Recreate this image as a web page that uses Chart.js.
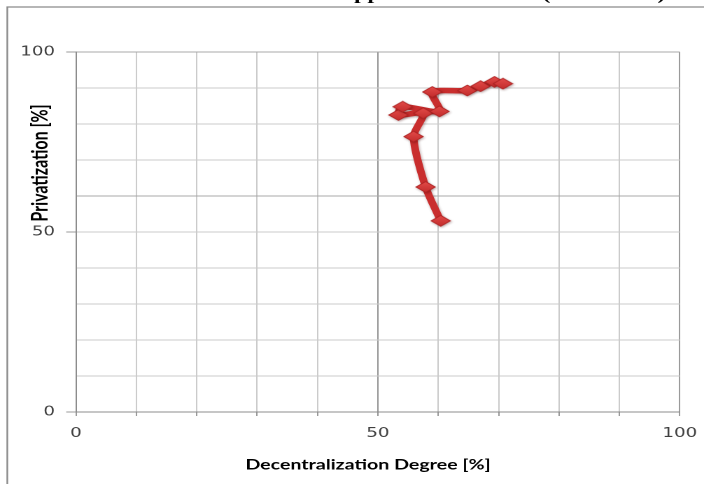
<!DOCTYPE html>
<html>
<head>
<meta charset="utf-8">
<script src="https://cdn.jsdelivr.net/npm/chart.js@4.4.1/dist/chart.umd.min.js"></script>
<style>
  html, body { margin: 0; padding: 0; background: #ffffff; overflow: hidden; }
  /* the figure is laid out narrow and widened to the page */
  #wrap { position: absolute; left: 0; top: 0; width: 503px; height: 484px;
          transform: scaleX(1.3996); transform-origin: 0 0; }
</style>
</head>
<body>
<div id="wrap"><canvas id="c"></canvas></div>
<script>
// Slovakia path: decentralization degree vs. privatization share
const decentralization = [60.4, 57.9, 55.9, 57.5, 53.4, 54.1, 60.2, 59.0, 64.8, 67.0, 69.3, 70.7];
const privatization    = [53.1, 62.5, 76.5, 83.0, 82.5, 84.8, 83.5, 88.9, 89.3, 90.5, 91.7, 91.2];
const tickLabels = [0, 50, 100];
const xAxisTitle = 'Decentralization Degree [%]';
const yAxisTitle = 'Privatization [%]';
const chartTitle = 'COMPARATIVE Transition Model applied to Slovakia (1993\u20132008)';

const points = decentralization.map((x, i) => ({ x: x, y: privatization[i] }));

// flattened diamond marker, rendered at double resolution
function makeMarker(w, h) {
  const k = 2;
  const c = document.createElement('canvas');
  c.width = w * k; c.height = h * k;
  const g = c.getContext('2d');
  g.scale(k, k);
  const grad = g.createLinearGradient(0, 0, 0, h);
  grad.addColorStop(0, '#e44c4a');
  grad.addColorStop(1, '#c02b2b');
  g.beginPath();
  g.moveTo(w / 2, 0.6); g.lineTo(w - 0.6, h / 2); g.lineTo(w / 2, h - 0.6); g.lineTo(0.6, h / 2);
  g.closePath();
  g.fillStyle = grad; g.fill();
  g.lineWidth = 0.8; g.strokeStyle = '#b02424'; g.stroke();
  const img = new Image();
  img.width = w; img.height = h;
  img.src = c.toDataURL();
  return img;
}

const frameAndText = {
  id: 'frameAndText',
  beforeDraw(chart) {
    const ctx = chart.ctx;
    ctx.save();
    // outer frame (top and left edges)
    ctx.strokeStyle = '#8a8a8a';
    ctx.lineWidth = 1.2;
    ctx.beginPath();
    ctx.moveTo(5.2, 490); ctx.lineTo(5.2, 7); ctx.lineTo(520, 7);
    ctx.stroke();
    // heading, running off the top edge
    ctx.font = 'bold 17px "Liberation Serif", serif';
    ctx.fillStyle = '#000000';
    ctx.textBaseline = 'alphabetic';
    const prefix = chartTitle.slice(0, chartTitle.indexOf('Model'));
    const x0 = 194 - ctx.measureText(prefix).width;
    ctx.fillText(chartTitle, x0, -0.6);
    ctx.restore();
  },
  afterDraw(chart) {
    const ctx = chart.ctx;
    ctx.save();
    ctx.fillStyle = '#000000';
    ctx.textAlign = 'center';
    ctx.textBaseline = 'middle';
    ctx.font = 'bold 14px Lato, sans-serif';
    ctx.fillText(xAxisTitle, 263, 465);
    ctx.translate(28.6, 163);
    ctx.rotate(-Math.PI / 2);
    ctx.font = 'bold 16px Lato, sans-serif';
    ctx.fillText(yAxisTitle, 0, 0);
    ctx.restore();
  }
};

const seriesShadow = {
  id: 'seriesShadow',
  beforeDatasetsDraw(chart) {
    const ctx = chart.ctx;
    ctx.save();
    ctx.shadowColor = 'rgba(60,0,0,0.35)';
    ctx.shadowBlur = 4;
    ctx.shadowOffsetX = 1.2;
    ctx.shadowOffsetY = 2;
  },
  afterDatasetsDraw(chart) { chart.ctx.restore(); }
};

const strongX = v => v === 0 || v === 50 || v === 100;
const strongY = v => v === 0 || v === 60 || v === 100;

const marker = makeMarker(15, 12);
marker.onload = () => {
  new Chart(document.getElementById('c'), {
    type: 'scatter',
    data: {
      datasets: [{
        data: points,
        showLine: true,
        borderColor: '#c92e2e',
        backgroundColor: '#c92e2e',
        borderWidth: 5.5,
        borderJoinStyle: 'round',
        borderCapStyle: 'round',
        tension: 0.25,
        pointStyle: marker,
        pointRadius: 6
      }]
    },
    options: {
      responsive: true,
      maintainAspectRatio: false,
      animation: false,
      devicePixelRatio: 2,
      layout: { padding: { left: 0, right: 17.3, top: 52, bottom: 0 } },
      plugins: { legend: { display: false }, tooltip: { enabled: false } },
      scales: {
        x: {
          type: 'linear', min: 0, max: 100,
          afterFit(scale) { scale.height = 72; scale.paddingLeft = 0; scale.paddingRight = 0; },
          border: { display: true, color: '#8c8c8c', width: 1 },
          grid: {
            color: c => (c.tick && strongX(c.tick.value)) ? '#9a9a9a' : '#cbcbcb',
            tickColor: '#9a9a9a',
            tickLength: 4
          },
          ticks: {
            stepSize: 10, autoSkip: false, maxRotation: 0, padding: 10,
            color: '#404040',
            font: { family: '"DejaVu Sans", sans-serif', size: 13 },
            callback: v => tickLabels.includes(v) ? String(v) : ''
          }
        },
        y: {
          type: 'linear', min: 0, max: 100,
          afterFit(scale) { scale.width = 54.3; },
          border: { display: true, color: '#8c8c8c', width: 1 },
          grid: {
            color: c => (c.tick && strongY(c.tick.value)) ? '#a8a8a8' : '#cbcbcb',
            tickColor: c => (c.tick && tickLabels.includes(c.tick.value)) ? '#9a9a9a' : 'rgba(0,0,0,0)',
            tickLength: 7
          },
          ticks: {
            stepSize: 10, autoSkip: false, padding: 8,
            color: '#404040',
            font: { family: '"DejaVu Sans", sans-serif', size: 13 },
            callback: v => tickLabels.includes(v) ? String(v) : ''
          }
        }
      }
    },
    plugins: [frameAndText, seriesShadow]
  });
};
</script>
</body>
</html>
